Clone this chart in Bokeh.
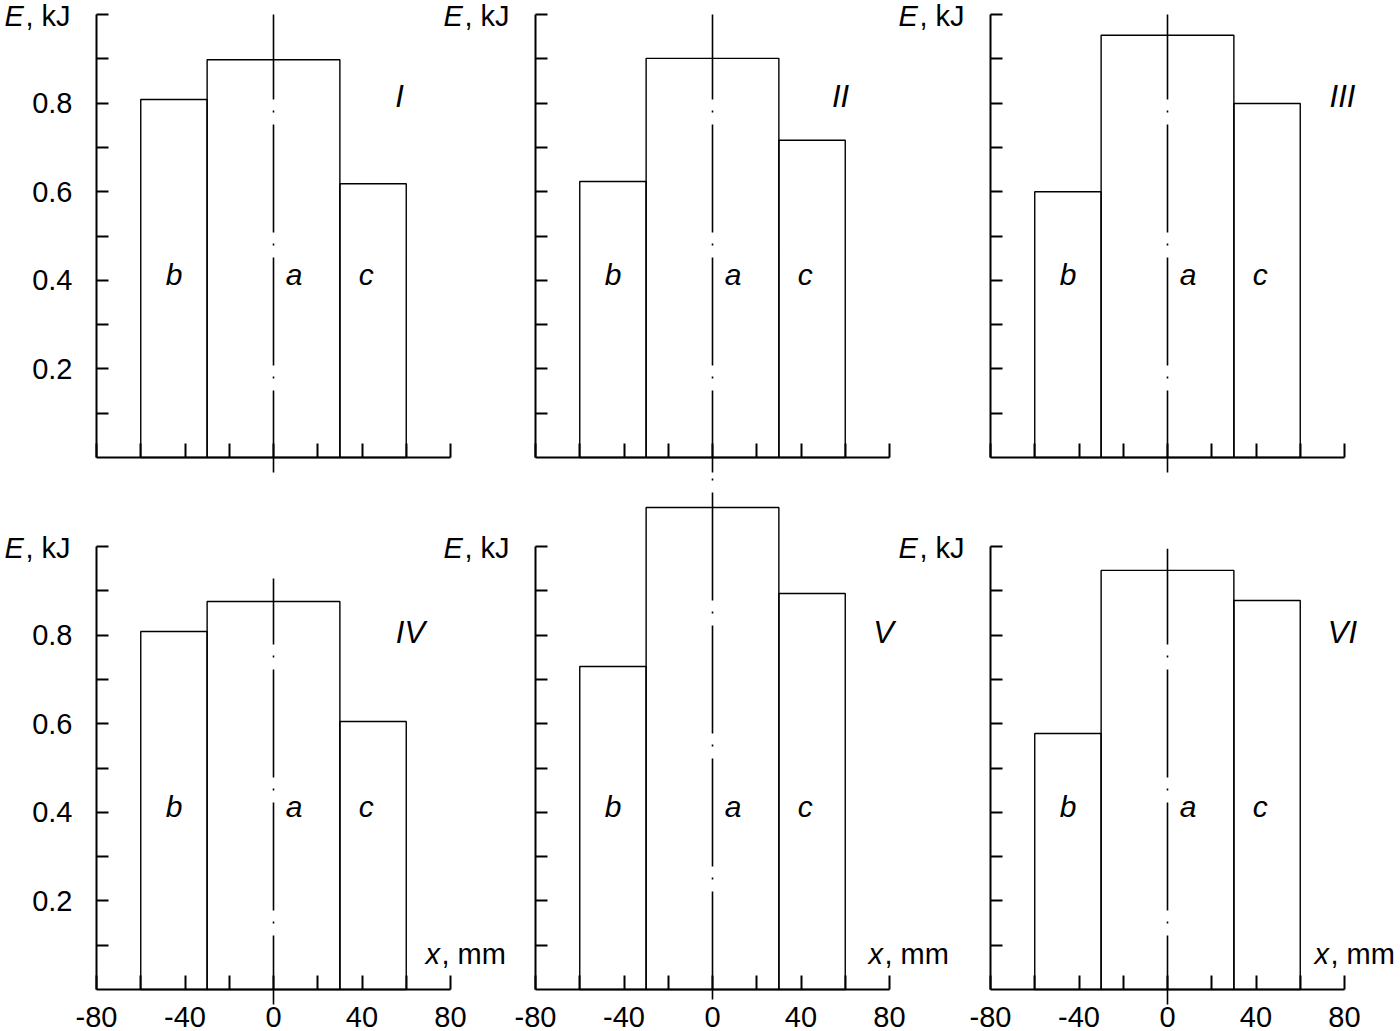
from bokeh.plotting import figure
from bokeh.models import Range1d, LinearAxis, FixedTicker, ColumnDataSource, PrintfTickFormatter
from bokeh.core.properties import value
from bokeh.embed import file_html
from bokeh.resources import INLINE

# ---------------- data ----------------
panel_names = ["I", "II", "III", "IV", "V", "VI"]
zone_labels = ["b", "a", "c"]
zone_left = [-60, -30, 30]          # mm
zone_right = [-30, 30, 60]          # mm
energy_I = [0.808, 0.898, 0.618]    # kJ, zones b, a, c
energy_II = [0.623, 0.901, 0.716]
energy_III = [0.600, 0.953, 0.799]
energy_IV = [0.808, 0.876, 0.605]
energy_V = [0.729, 1.088, 0.894]
energy_VI = [0.578, 0.946, 0.878]
centre_line_top = [1.0, 1.0, 1.0, 0.928, 1.165, 0.995]
centre_line_bottom = -0.034
x_tick_labelled = [-80, -40, 0, 40, 80]
x_tick_minor = [-60, -20, 20, 60]
y_tick_labelled = [0.2, 0.4, 0.6, 0.8]
y_tick_minor = [0.1, 0.3, 0.5, 0.7, 0.9, 1.0]
x_extent = (-80, 80)
y_extent = (0, 1.0)
y_title = ("E", ", kJ")
x_title = ("x", ", mm")

energies = [energy_I, energy_II, energy_III, energy_IV, energy_V, energy_VI]

# ---------------- layout ----------------
W, H = 1400, 1031
SX = 177 / 80.0            # px per mm
SY = 443.0                 # px per kJ
COL_ZERO = [273, 712, 1167]    # px from left edge to x = 0
ROW_ZERO = [H - 457, H - 989]  # px from bottom edge to E = 0
FONT = value("Liberation Sans")
TXT_SHIFT = -11                # baseline correction (px)

# label placement (px relative to panel origin)
numeral_px = [(126, 350), (128, 350), (175, 350), (137, 346), (171, 346), (175, 346)]
zone_label_px_x = [-99.5, 20.7, 92.7]
zone_label_base = 172
xt_px = [152, 156, 147]
dash_offset = [26, 26, 26, 39, 39 - 44, 39]

p = figure(width=W, height=H, output_backend="svg", toolbar_location=None,
           x_range=Range1d(0, 1), y_range=Range1d(0, 1),
           x_axis_location=None, y_axis_location=None,
           min_border=0, outline_line_color=None,
           background_fill_color="white", border_fill_color="white")
p.grid.visible = False

p.extra_x_ranges = {f"c{c}": Range1d(-x0 / SX, (W - x0) / SX) for c, x0 in enumerate(COL_ZERO)}
p.extra_y_ranges = {f"r{r}": Range1d(-y0 / SY, (H - y0) / SY) for r, y0 in enumerate(ROW_ZERO)}


def style_axis(ax, tick_len):
    ax.axis_line_width = 2
    ax.axis_line_color = "black"
    ax.major_tick_line_width = 2
    ax.minor_tick_line_width = 2
    ax.major_tick_in = tick_len
    ax.major_tick_out = 0
    ax.minor_tick_in = tick_len
    ax.minor_tick_out = 0
    ax.major_label_text_font = "Liberation Sans"
    ax.major_label_text_font_size = "29px"
    ax.major_label_text_color = "black"


def txt(xs, ys, texts, xr, yr, size, italic=False, align="left", x_off=0, y_off=0):
    p.text(x=xs, y=ys, text=texts, x_offset=x_off, y_offset=y_off + TXT_SHIFT,
           text_font=FONT, text_font_style="italic" if italic else "normal",
           text_font_size=size, text_align=align, text_baseline="alphabetic",
           text_color="black", x_range_name=xr, y_range_name=yr)


for k in range(6):
    r, c = divmod(k, 3)
    xr, yr = f"c{c}", f"r{r}"
    src = ColumnDataSource(dict(left=zone_left, right=zone_right,
                                top=energies[k], bottom=[0.0] * len(zone_left)))
    p.quad(left="left", right="right", bottom="bottom", top="top", source=src,
           fill_color=None, line_color="black", line_width=1.4,
           x_range_name=xr, y_range_name=yr)
    p.line(x=[0, 0], y=[centre_line_bottom, centre_line_top[k]],
           line_color="black", line_width=1.6, line_dash="108 12 2 11",
           line_dash_offset=dash_offset[k] % 133,
           x_range_name=xr, y_range_name=yr)

    # vertical axis
    if c == 0:
        yt = FixedTicker(ticks=y_tick_labelled, minor_ticks=y_tick_minor)
    else:
        yt = FixedTicker(ticks=[], minor_ticks=sorted(y_tick_minor + y_tick_labelled))
    yax = LinearAxis(x_range_name=xr, y_range_name=yr, fixed_location=x_extent[0],
                     bounds=y_extent, ticker=yt,
                     formatter=PrintfTickFormatter(format="%.1f"))
    style_axis(yax, 12)
    yax.major_label_standoff = 24
    p.add_layout(yax, "left")

    # horizontal axis
    if r == 1:
        xt = FixedTicker(ticks=x_tick_labelled, minor_ticks=x_tick_minor)
    else:
        xt = FixedTicker(ticks=[], minor_ticks=sorted(x_tick_minor + x_tick_labelled))
    xax = LinearAxis(x_range_name=xr, y_range_name=yr, fixed_location=y_extent[0],
                     bounds=x_extent, ticker=xt,
                     formatter=PrintfTickFormatter(format="%d"))
    style_axis(xax, 14)
    xax.major_label_standoff = 17
    p.add_layout(xax, "below")

    # y title  "E, kJ"
    ty = y_extent[1] - 12 / SY
    txt([x_extent[0]], [ty], [y_title[0]], xr, yr, "29px", italic=True, x_off=-92)
    txt([x_extent[0]], [ty], [y_title[1]], xr, yr, "29px", x_off=-71)

    # panel numeral
    nx, ny = numeral_px[k]
    txt([nx / SX], [ny / SY], [panel_names[k]], xr, yr, "31px", italic=True, align="center")

    # zone labels
    txt([v / SX for v in zone_label_px_x], [zone_label_base / SY] * 3, zone_labels,
        xr, yr, "30px", italic=True, align="center")

    # x title "x, mm" on the lower row
    if r == 1:
        txt([xt_px[c] / SX], [25 / SY], [x_title[0]], xr, yr, "29px", italic=True)
        txt([xt_px[c] / SX], [25 / SY], [x_title[1]], xr, yr, "29px", x_off=16)

open("out.html", "w").write(file_html(p, INLINE))
